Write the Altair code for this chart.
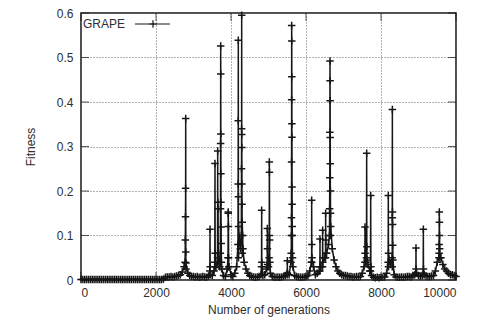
import altair as alt
import pandas as pd

# Baseline fitness sampled every 50 generations (0 .. 10000)
base_gen = list(range(0, 10001, 50))
base_fit = [
    0.001, 0.001, 0.001, 0.001, 0.001, 0.001, 0.001, 0.001, 0.001, 0.001,  # 0-450
    0.001, 0.001, 0.001, 0.001, 0.001, 0.001, 0.001, 0.001, 0.001, 0.001,  # 500-950
    0.001, 0.001, 0.001, 0.001, 0.001, 0.001, 0.001, 0.001, 0.001, 0.001,  # 1000-1450
    0.001, 0.001, 0.001, 0.001, 0.001, 0.001, 0.001, 0.001, 0.001, 0.001,  # 1500-1950
    0.001, 0.001, 0.001, 0.001, 0.002, 0.006, 0.007, 0.007, 0.008, 0.007,  # 2000-2450
    0.008, 0.009, 0.010, 0.012, 0.018, 0.030, 0.025, 0.015, 0.010, 0.008,  # 2500-2950
    0.008, 0.007, 0.008, 0.006, 0.007, 0.008, 0.007, 0.006, 0.009, 0.012,  # 3000-3450
    0.010, 0.020, 0.030, 0.035, 0.030, 0.025, 0.010, 0.008, 0.025, 0.030,  # 3500-3950
    0.012, 0.008, 0.015, 0.030, 0.050, 0.070, 0.060, 0.040, 0.025, 0.015,  # 4000-4450
    0.010, 0.008, 0.007, 0.006, 0.007, 0.008, 0.012, 0.010, 0.012, 0.025,  # 4500-4950
    0.030, 0.015, 0.008, 0.007, 0.006, 0.007, 0.006, 0.007, 0.008, 0.010,  # 5000-5450
    0.015, 0.012, 0.040, 0.030, 0.010, 0.008, 0.007, 0.006, 0.006, 0.007,  # 5500-5950
    0.008, 0.010, 0.020, 0.040, 0.030, 0.012, 0.015, 0.020, 0.030, 0.040,  # 6000-6450
    0.050, 0.060, 0.080, 0.100, 0.070, 0.045, 0.030, 0.020, 0.015, 0.012,  # 6500-6950
    0.010, 0.010, 0.009, 0.008, 0.008, 0.007, 0.007, 0.008, 0.007, 0.008,  # 7000-7450
    0.015, 0.030, 0.040, 0.035, 0.020, 0.010, 0.006, 0.005, 0.006, 0.005,  # 7500-7950
    0.006, 0.006, 0.007, 0.015, 0.030, 0.035, 0.030, 0.012, 0.007, 0.006,  # 8000-8450
    0.006, 0.007, 0.006, 0.007, 0.008, 0.008, 0.007, 0.010, 0.012, 0.015,  # 8500-8950
    0.010, 0.008, 0.010, 0.012, 0.009, 0.008, 0.008, 0.009, 0.010, 0.020,  # 9000-9450
    0.040, 0.060, 0.050, 0.035, 0.025, 0.020, 0.015, 0.012, 0.012, 0.010,  # 9500-9950
    0.008,                                                                 # 10000
]

# Spike samples (generation, fitness)
spike_gen = [
    2775, 2782, 2786, 2790, 2792, 2795, 2800,
    3435, 3440, 3445,
    3568, 3573, 3578, 3582,
    3640, 3645, 3650, 3655, 3660,
    3715, 3720, 3723, 3725, 3727, 3729, 3731, 3733, 3736, 3740, 3745,
    3920, 3925, 3928, 3932, 3936, 3940,
    4185, 4190, 4193, 4195, 4198, 4202,
    4275, 4280, 4283, 4285, 4287, 4289, 4292, 4295, 4300, 4310, 4320,
    4814, 4818, 4822,
    4965, 4969, 4972, 4975,
    5015, 5020, 5022, 5025, 5030, 5035,
    5498, 5502, 5506,
    5605, 5610, 5613, 5615, 5617, 5618, 5620, 5622, 5624, 5626, 5628, 5630, 5633, 5636, 5640,
    6145, 6151, 6155, 6160,
    6370, 6373, 6377,
    6440, 6444, 6448,
    6520, 6524, 6528, 6532,
    6625, 6630, 6634, 6637, 6640, 6642, 6644, 6646, 6648, 6651, 6655, 6660,
    7570, 7573, 7576,
    7612, 7618, 7622, 7626,
    7720, 7725, 7730,
    8190, 8195, 8200,
    8295, 8300, 8303, 8306, 8309, 8313, 8318,
    8930, 8933, 8936,
    9125, 9129, 9133,
    9545, 9550, 9555, 9558, 9561, 9565, 9570,
]
spike_fit = [
    0.040, 0.090, 0.142, 0.206, 0.363, 0.063, 0.038,
    0.020, 0.114, 0.030,
    0.040, 0.262, 0.060, 0.030,
    0.050, 0.290, 0.175, 0.160, 0.060,
    0.060, 0.160, 0.307, 0.526, 0.463, 0.328, 0.239, 0.175, 0.119, 0.082, 0.040,
    0.050, 0.150, 0.153, 0.120, 0.050, 0.030,
    0.080, 0.216, 0.358, 0.539, 0.187, 0.120,
    0.100, 0.250, 0.340, 0.595, 0.327, 0.298, 0.216, 0.170, 0.130, 0.100, 0.070,
    0.030, 0.157, 0.040,
    0.030, 0.116, 0.070, 0.035,
    0.050, 0.100, 0.265, 0.242, 0.090, 0.040,
    0.012, 0.043, 0.015,
    0.060, 0.100, 0.140, 0.265, 0.405, 0.572, 0.537, 0.457, 0.351, 0.321, 0.209, 0.170, 0.120, 0.100, 0.050,
    0.040, 0.179, 0.080, 0.050,
    0.020, 0.092, 0.030,
    0.030, 0.112, 0.050,
    0.050, 0.150, 0.090, 0.060,
    0.100, 0.160, 0.230, 0.332, 0.492, 0.448, 0.403, 0.320, 0.261, 0.200, 0.150, 0.120,
    0.040, 0.119, 0.060,
    0.050, 0.285, 0.075, 0.045,
    0.020, 0.190, 0.030,
    0.040, 0.190, 0.060,
    0.050, 0.140, 0.383, 0.153, 0.125, 0.078, 0.045,
    0.015, 0.072, 0.025,
    0.015, 0.114, 0.025,
    0.050, 0.080, 0.153, 0.130, 0.100, 0.070, 0.050,
]

x_ticks = [0, 2000, 4000, 6000, 8000, 10000]
y_ticks = [0, 0.1, 0.2, 0.3, 0.4, 0.5, 0.6]
series_name = "GRAPE"

df = pd.DataFrame({
    "gen": base_gen + spike_gen,
    "fit": base_fit + spike_fit,
}).sort_values("gen", kind="stable").reset_index(drop=True)

W, H = 375, 267
INK = "#161616"
TXT = "#2e2e2e"
FONT = "Liberation Sans"
plus = "M-1,0L1,0M0,-1L0,1"

xs = alt.Scale(domain=[0, 10000], nice=False)
ys = alt.Scale(domain=[0, 0.6], nice=False)

x_enc = alt.X("gen:Q", scale=xs, axis=alt.Axis(
    values=x_ticks, title="Number of generations", grid=True, ticks=False, domain=False,
    labelPadding=7, titlePadding=6, format="d"))
y_enc = alt.Y("fit:Q", scale=ys, axis=alt.Axis(
    values=y_ticks, title="Fitness", grid=True, ticks=False, domain=False,
    labelPadding=8, titlePadding=19,
    labelExpr="datum.value == 0 ? '0' : format(datum.value, '.1f')"))

line = alt.Chart(df).mark_line(color=INK, strokeWidth=1.5).encode(x=x_enc, y=y_enc)
pts = alt.Chart(df).mark_point(shape=plus, size=56, filled=False, color=INK,
                               strokeWidth=1.5, opacity=1).encode(x="gen:Q", y="fit:Q")

xt = pd.DataFrame({"gen": x_ticks})
yt = pd.DataFrame({"fit": y_ticks})
tick_b = alt.Chart(xt).mark_tick(color=INK, size=8, thickness=1).encode(
    x="gen:Q", y=alt.value(H - 4))
tick_t = alt.Chart(xt).mark_tick(color=INK, size=8, thickness=1).encode(
    x="gen:Q", y=alt.value(4))
tick_l = alt.Chart(yt).mark_tick(color=INK, size=8, thickness=1).encode(
    y="fit:Q", x=alt.value(4))
tick_r = alt.Chart(yt).mark_tick(color=INK, size=8, thickness=1).encode(
    y="fit:Q", x=alt.value(W - 4))

leg = pd.DataFrame({"name": [series_name]})
leg_text = alt.Chart(leg).mark_text(align="left", baseline="middle", font=FONT,
                                    fontSize=12, color=TXT).encode(
    text="name:N", x=alt.value(2), y=alt.value(11))
leg_line = alt.Chart(leg).mark_rule(color=INK, strokeWidth=1).encode(
    x=alt.value(54), x2=alt.value(89), y=alt.value(11))
leg_pt = alt.Chart(leg).mark_point(shape=plus, size=56, filled=False, color=INK,
                                   strokeWidth=1.2, opacity=1).encode(
    x=alt.value(72), y=alt.value(11))

chart = alt.layer(line, pts, tick_b, tick_t, tick_l, tick_r,
                  leg_text, leg_line, leg_pt).properties(
    width=W, height=H,
    autosize=alt.AutoSizeParams(type="none"),
    padding={"left": 73, "top": 5, "right": 20, "bottom": 42},
    background="white",
).configure_view(
    stroke=INK, strokeWidth=1.5
).configure_axis(
    labelFont=FONT, titleFont=FONT, labelFontSize=12, titleFontSize=12,
    labelColor=TXT, titleColor=TXT, titleFontWeight="normal",
    gridColor="#666666", gridDash=[1, 2], gridWidth=1,
)

chart.save("out.html", embed_options={"renderer": "svg", "actions": False})
